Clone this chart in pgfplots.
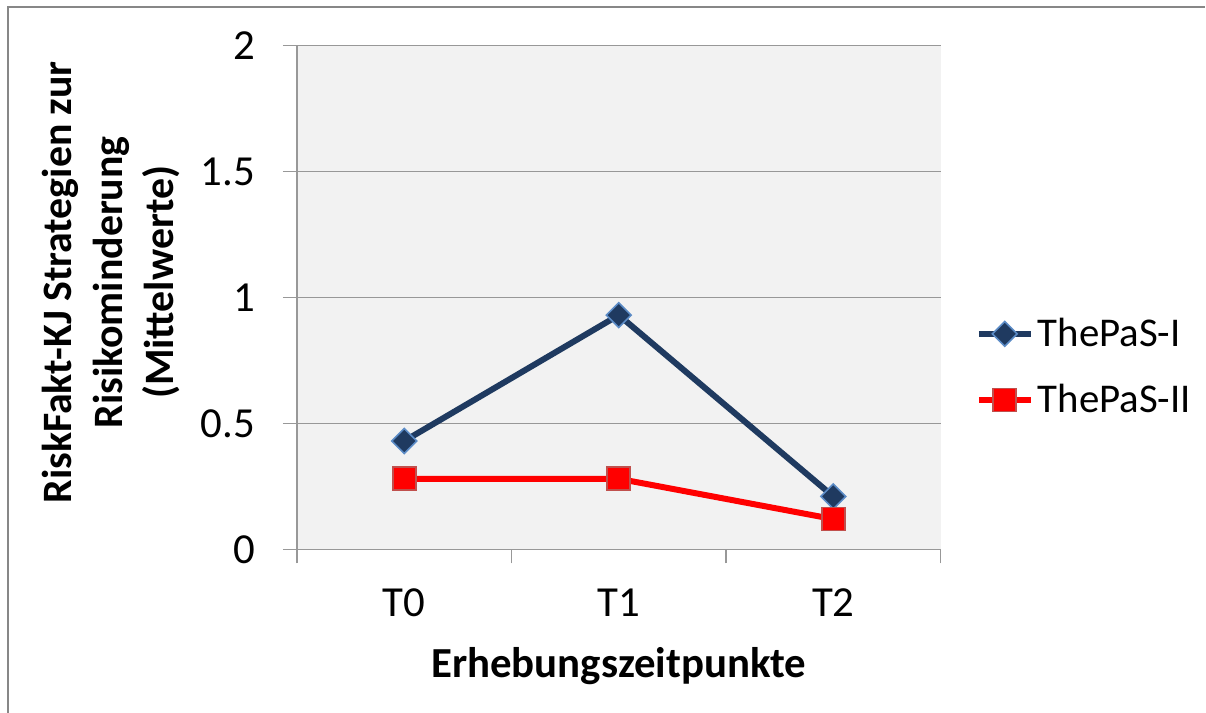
\documentclass[border=0pt]{standalone}
\usepackage{fontspec}
\setmainfont{Carlito}
\usepackage{pgfplots}
\pgfplotsset{compat=1.18}
\definecolor{navy}{HTML}{1F3A60}
\definecolor{navyedge}{HTML}{5B8BC6}
\definecolor{redline}{HTML}{FF0000}
\definecolor{rededge}{HTML}{C0504D}
\definecolor{plotbg}{HTML}{F2F2F2}
\definecolor{gridc}{HTML}{989898}
\definecolor{framec}{HTML}{878787}
\begin{document}
\begin{tikzpicture}
\useasboundingbox (-148.5bp,-81.85bp) rectangle (454.5bp,274.65bp);
\draw[framec, line width=1bp] (-144.35bp,-81.85bp) -- (-144.35bp,271.15bp) -- (454bp,271.15bp);
\begin{axis}[
  at={(0,0)}, anchor=south west,
  scale only axis, width=321.8bp, height=251.8bp,
  xmin=-0.5, xmax=2.5, ymin=0, ymax=2,
  axis x line=bottom, axis y line=left,
  axis line style={-, draw=gridc, line width=0.6bp},
  axis background/.style={fill=plotbg},
  xtick={-0.5,0.5,1.5,2.5},
  x tick label as interval,
  xticklabels={T0,T1,T2},
  ytick={0,0.5,1,1.5,2},
  ymajorgrids, grid style={draw=gridc, line width=0.6bp},
  tick align=outside, major tick length=7bp,
  tick style={draw=gridc, line width=0.6bp},
  /pgf/number format/assume math mode=true,
  tick label style={font=\fontsize{21.5}{25}\selectfont},
  xticklabel style={anchor=base, yshift=-26.5bp},
  yticklabel style={anchor=east, xshift=-10.5bp},
  xlabel={Erhebungszeitpunkte},
  xlabel style={at={(axis description cs:0.5,-0.2536)}, anchor=base, font=\fontsize{21.5}{25}\selectfont\bfseries},
  ylabel={RiskFakt-KJ Strategien zur\\Risikominderung\\(Mittelwerte)},
  ylabel style={at={(axis description cs:-0.2893,0.53)}, anchor=center, align=center, font=\fontsize{21}{25.5}\selectfont\bfseries},
  legend style={at={(axis description cs:1.054,0.362)}, anchor=west, draw=none, fill=none, inner sep=0pt,
    font=\fontsize{20.5}{24}\selectfont, row sep=13.5bp},
  legend cell align=left,
  legend image code/.code={\draw[mark repeat=2,mark phase=2,#1] plot coordinates {(0bp,0bp) (13bp,0bp) (26bp,0bp)};},
  clip=false,
]
\addplot[navy, line width=3bp, mark=square*, mark size=4.4bp,
  mark options={rotate=45, fill=navy, draw=navyedge, line width=0.8bp}]
  coordinates {(0,0.43) (1,0.93) (2,0.21)};
\addlegendentry{ThePaS-I}
\addplot[redline, line width=3bp, mark=square*, mark size=5.75bp,
  mark options={fill=redline, draw=rededge, line width=0.8bp}]
  coordinates {(0,0.28) (1,0.28) (2,0.12)};
\addlegendentry{ThePaS-II}
\end{axis}
\end{tikzpicture}
\end{document}
